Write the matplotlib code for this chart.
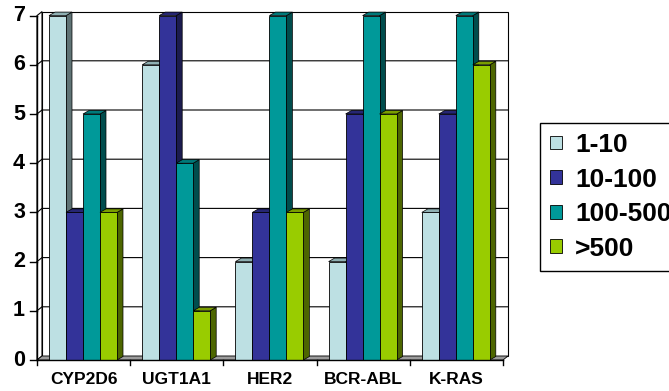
import matplotlib.pyplot as plt
from matplotlib.patches import Polygon, Patch

genes = ['CYP2D6', 'UGT1A1', 'HER2', 'BCR-ABL', 'K-RAS']
ranges = ['1-10', '10-100', '100-500', '>500']
counts_1_10 = [7, 6, 2, 2, 3]
counts_10_100 = [3, 7, 3, 5, 5]
counts_100_500 = [5, 4, 7, 7, 7]
counts_over_500 = [3, 1, 3, 5, 6]
series = [counts_1_10, counts_10_100, counts_100_500, counts_over_500]

front_colors = ['#bde0e3', '#333399', '#009999', '#99cc00']
top_colors = ['#8fb0b3', '#262673', '#007a7a', '#7a9e00']
side_colors = ['#5f7375', '#1c1c4f', '#004d4d', '#4d6600']

plt.rcParams['font.family'] = ['Liberation Sans', 'DejaVu Sans']
plt.rcParams['font.weight'] = 'bold'

fig = plt.figure(figsize=(6.69, 3.91), dpi=100)
ax = fig.add_axes([37 / 669, 31 / 391, 466 / 669, 344.4 / 391])
ax.set_xlim(0, 5)
ax.set_ylim(0, 7)
ax.axis('off')

# size of one data unit in pixels, used for the fake 3d offsets
ux = 466 / 5
uy = 344.4 / 7
wall_dx, wall_dy = 5 / ux, 4 / uy
bar_dx, bar_dy = 6 / ux, 3.5 / uy
bar_w = 17 / ux
bar_x0 = 12 / ux
ymax = 7
ncat = len(genes)

# back wall, left wall and floor
ax.add_patch(Polygon([(wall_dx, wall_dy), (ncat + wall_dx, wall_dy),
                      (ncat + wall_dx, ymax + wall_dy), (wall_dx, ymax + wall_dy)],
                     facecolor='white', edgecolor='black', lw=0.8, clip_on=False, zorder=1))
ax.add_patch(Polygon([(0, 0), (wall_dx, wall_dy), (wall_dx, ymax + wall_dy), (0, ymax)],
                     facecolor='white', edgecolor='black', lw=0.8, clip_on=False, zorder=1))
for v in range(1, ymax):
    ax.plot([0, wall_dx, ncat + wall_dx], [v, v + wall_dy, v + wall_dy],
            color='black', lw=0.8, clip_on=False, zorder=1.5)
ax.add_patch(Polygon([(0, 0), (ncat, 0), (ncat + wall_dx, wall_dy), (wall_dx, wall_dy)],
                     facecolor='#9c9c9c', edgecolor='black', lw=0.6, clip_on=False, zorder=2))

# bars: front face from ax.bar, then top and side faces
z = 3.0
for gi in range(ncat):
    for k, vals in enumerate(series):
        x = gi + bar_x0 + k * bar_w
        h = vals[gi]
        side = Polygon([(x + bar_w, 0), (x + bar_w + bar_dx, bar_dy),
                        (x + bar_w + bar_dx, h + bar_dy), (x + bar_w, h)],
                       facecolor=side_colors[k], edgecolor='black', lw=0.5,
                       clip_on=False, zorder=z)
        top = Polygon([(x, h), (x + bar_w, h), (x + bar_w + bar_dx, h + bar_dy),
                       (x + bar_dx, h + bar_dy)],
                      facecolor=top_colors[k], edgecolor='black', lw=0.5,
                      clip_on=False, zorder=z)
        ax.add_patch(side)
        ax.add_patch(top)
        ax.bar(x, h, width=bar_w, align='edge', color=front_colors[k],
               edgecolor='black', lw=0.6, clip_on=False, zorder=z + 0.01)
        z += 0.02

# axis lines, ticks and labels
ax.plot([0, 0], [0, ymax], color='black', lw=1, clip_on=False, zorder=10)
ax.plot([0, ncat], [0, 0], color='black', lw=1, clip_on=False, zorder=10)
for v in range(ymax + 1):
    ax.plot([-7 / ux, 0], [v, v], color='black', lw=1, clip_on=False, zorder=10)
    ax.text(-12 / ux, v, str(v), ha='right', va='center', fontsize=15.5,
            fontweight='bold')
for i in range(ncat + 1):
    ax.plot([i, i], [0, -5 / uy], color='black', lw=1, clip_on=False, zorder=10)
for i, g in enumerate(genes):
    ax.text(i + 0.5, -19 / uy, g, ha='center', va='center', fontsize=12.5,
            fontweight='bold')

handles = [Patch(facecolor=c, edgecolor='black', lw=0.6, label=r)
           for c, r in zip(front_colors, ranges)]
leg = fig.legend(handles=handles, loc='upper left',
                 bbox_to_anchor=(540 / 669, 1 - 123 / 391), frameon=True,
                 fancybox=False, edgecolor='black', framealpha=1, fontsize=19,
                 handlelength=0.46, handleheight=0.42, handletextpad=0.49,
                 labelspacing=0.4, borderpad=0.38, borderaxespad=0)
leg.get_frame().set_linewidth(1.0)

fig.savefig('out.png', dpi=100)
